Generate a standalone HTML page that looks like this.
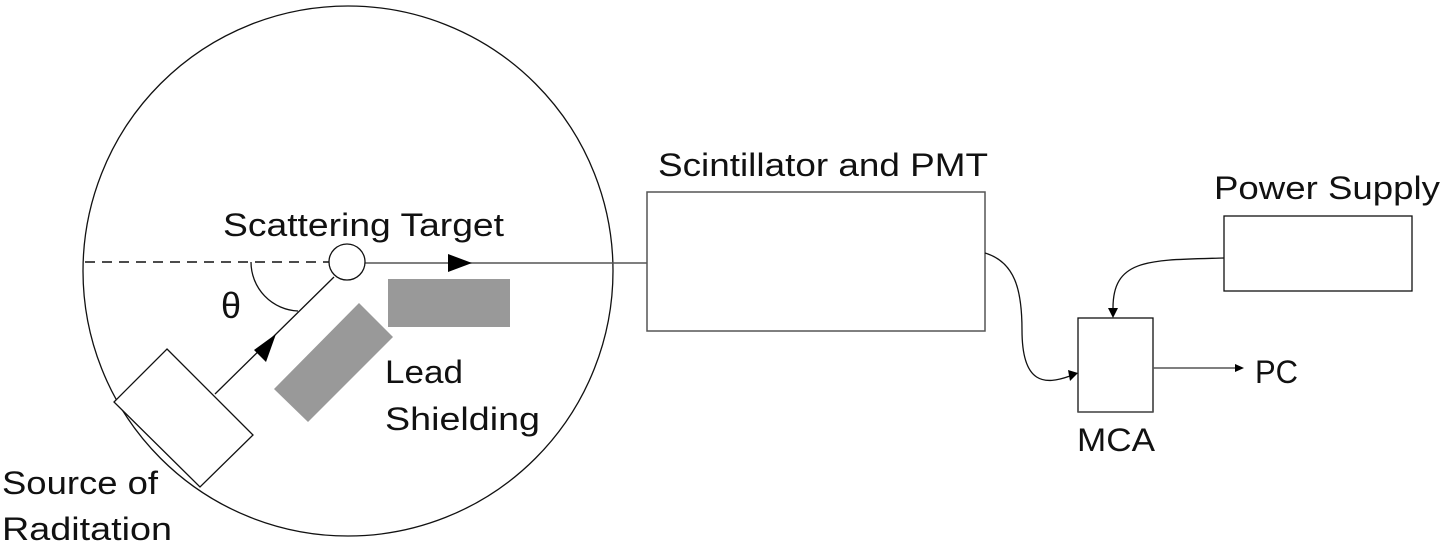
<!DOCTYPE html>
<html><head><meta charset="utf-8"><style>
html,body{margin:0;padding:0;background:#fff;}
svg{display:block;}
text{font-family:"Liberation Sans",sans-serif;fill:#111;}
</style></head><body>
<svg width="1442" height="552" viewBox="0 0 1442 552" xmlns="http://www.w3.org/2000/svg">
<circle cx="348" cy="271" r="265" fill="none" stroke="#111" stroke-width="1.3"/>
<line x1="85" y1="262" x2="330" y2="262" stroke="#111" stroke-width="1.5" stroke-dasharray="10,7"/>
<line x1="365" y1="263" x2="647" y2="263" stroke="#555" stroke-width="1.5"/>
<polygon points="448,254 472,263 448,272" fill="#000"/>
<circle cx="347" cy="262" r="18" fill="#fff" stroke="#111" stroke-width="1.3"/>
<path d="M251,262 A49,49 0 0 0 298,311" fill="none" stroke="#111" stroke-width="1.3"/>
<line x1="334" y1="277" x2="215" y2="394" stroke="#111" stroke-width="1.3"/>
<polygon points="276,334 254,350 266,362" fill="#000"/>
<polygon points="167,349 253,435 200,487 114,402" fill="#fff" stroke="#111" stroke-width="1.3"/>
<polygon points="359,303 393,337 308,422 274,389" fill="#999"/>
<rect x="388" y="279" width="122" height="48" fill="#999"/>
<rect x="647" y="192" width="338" height="139" fill="none" stroke="#555" stroke-width="1.5"/>
<rect x="1224" y="216" width="188" height="75" fill="none" stroke="#111" stroke-width="1.3"/>
<rect x="1078" y="318" width="75" height="94" fill="none" stroke="#111" stroke-width="1.3"/>
<line x1="1078" y1="412" x2="1153" y2="412" stroke="#555" stroke-width="1.5"/>
<path d="M985,253 C1015,262 1022,290 1022,330 C1022,385 1045,385 1070,376" fill="none" stroke="#111" stroke-width="1.3"/>
<polygon points="1078,373 1068,370 1070,381" fill="#000"/>
<path d="M1224,258 C1150,260 1113,258 1113,308" fill="none" stroke="#111" stroke-width="1.3"/>
<polygon points="1113,318 1108,308 1118,308" fill="#000"/>
<line x1="1153" y1="368" x2="1236" y2="368" stroke="#555" stroke-width="1.5"/>
<polygon points="1244,368 1235,364 1235,372" fill="#000"/>
<text x="658" y="176" font-size="32" textLength="330" lengthAdjust="spacingAndGlyphs">Scintillator and PMT</text>
<text x="1214" y="199" font-size="32" textLength="226" lengthAdjust="spacingAndGlyphs">Power Supply</text>
<text x="223" y="236" font-size="32" textLength="281" lengthAdjust="spacingAndGlyphs">Scattering Target</text>
<text x="385" y="383" font-size="32" textLength="78" lengthAdjust="spacingAndGlyphs">Lead</text>
<text x="385" y="430" font-size="32" textLength="155" lengthAdjust="spacingAndGlyphs">Shielding</text>
<text x="2" y="494" font-size="32" textLength="156" lengthAdjust="spacingAndGlyphs">Source of</text>
<text x="2" y="540" font-size="32" textLength="170" lengthAdjust="spacingAndGlyphs">Raditation</text>
<text x="1077" y="451" font-size="32" textLength="78" lengthAdjust="spacingAndGlyphs">MCA</text>
<text x="1255" y="383" font-size="32" textLength="43" lengthAdjust="spacingAndGlyphs">PC</text>
<text x="221" y="318" font-size="36">θ</text>
</svg>
</body></html>
